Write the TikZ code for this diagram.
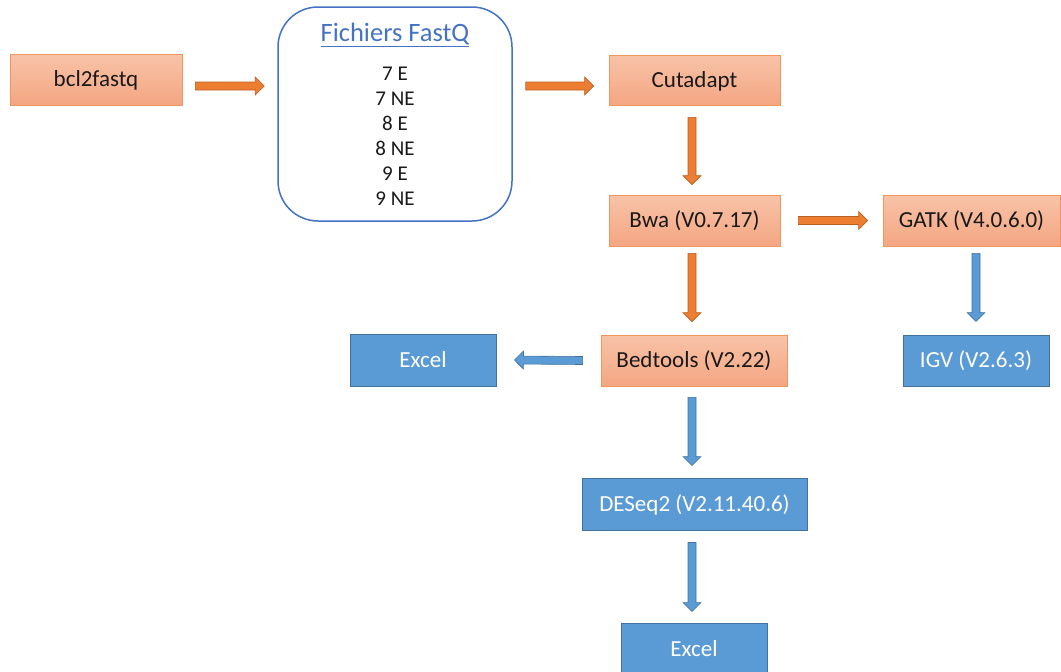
\documentclass[tikz,border=0pt]{standalone}
\usepackage{fontspec}
\setmainfont{Carlito}
\usetikzlibrary{calc}
\definecolor{oFillTop}{HTML}{F8C3A8}
\definecolor{oFillBot}{HTML}{F4A682}
\definecolor{oBorder}{HTML}{F0955E}
\definecolor{oArrow}{HTML}{ED7D31}
\definecolor{oArrowB}{HTML}{B85F24}
\definecolor{bFill}{HTML}{5B9BD5}
\definecolor{bBorder}{HTML}{41719C}
\definecolor{fqBlue}{HTML}{4472C4}
\newcommand{\blockarrow}[3]{%
  \draw[#1] let \p1=(#2), \p2=(#3),
    \n1={veclen(\x2-\x1,\y2-\y1)},
    \n2={(\x2-\x1)/\n1}, \n3={(\y2-\y1)/\n1} in
    ({\x1-4*\n3},{\y1+4*\n2}) --
    ({\x2-9*\n2-4*\n3},{\y2-9*\n3+4*\n2}) --
    ({\x2-9*\n2-9*\n3},{\y2-9*\n3+9*\n2}) --
    (\x2,\y2) --
    ({\x2-9*\n2+9*\n3},{\y2-9*\n3-9*\n2}) --
    ({\x2-9*\n2+4*\n3},{\y2-9*\n3-4*\n2}) --
    ({\x1+4*\n3},{\y1-4*\n2}) -- cycle;}
\tikzset{
  obox/.style={rectangle, draw=oBorder, line width=0.8pt, top color=oFillTop, bottom color=oFillBot,
    minimum height=51pt, inner sep=0pt, text height=17pt, text depth=3pt, text=black!90, font=\fontsize{23}{28}\selectfont},
  bbox/.style={rectangle, draw=bBorder, line width=0.9pt, fill=bFill,
    minimum height=51pt, inner sep=0pt, text height=17pt, text depth=3pt, text=white, font=\fontsize{23}{28}\selectfont},
  oarr/.style={fill=oArrow, draw=oArrowB, line width=0.6pt, line join=miter},
  barr/.style={fill=bFill, draw=bBorder, line width=0.6pt, line join=miter},
}
\begin{document}
\begin{tikzpicture}[x=1pt,y=-1pt]
\useasboundingbox (0,0) rectangle (1061,672);
\node[obox, minimum width=172pt] (bcl) at (96,79.5) {bcl2fastq};
\node[rectangle, rounded corners=40pt, draw=fqBlue, line width=1.5pt, minimum width=234pt, minimum height=214pt,
  inner sep=0pt, align=center, font=\fontsize{21}{25}\selectfont, text=black!90] (fq) at (395,114)
  {{\fontsize{26.5}{30}\selectfont\textcolor{fqBlue}{\underline{Fichiers FastQ}}}\\[14pt]
   7 E\\ 7 NE\\ 8 E\\ 8 NE\\ 9 E\\ 9 NE};
\node[obox, minimum width=171pt, minimum height=50pt] (cut) at (694.5,80) {Cutadapt};
\node[obox, minimum width=171pt] (bwa) at (694.5,220.5) {Bwa (V0.7.17)};
\node[obox, minimum width=177pt] (gatk) at (971.5,220.5) {GATK (V4.0.6.0)};
\node[obox, minimum width=186pt] (bed) at (694,360.5) {Bedtools (V2.22)};
\node[bbox, minimum width=146pt] (igv) at (976,360.5) {IGV (V2.6.3)};
\node[bbox, minimum width=146pt, minimum height=52pt] (xl1) at (423,360) {Excel};
\node[bbox, minimum width=225pt, minimum height=52pt] (deseq) at (694.5,504) {DESeq2 (V2.11.40.6)};
\node[bbox, minimum width=146pt, minimum height=52pt] (xl2) at (694,649) {Excel};

\coordinate (a1s) at ($(bcl.east)+(13,6.5)$);
\coordinate (a1e) at ($(fq.west|-a1s)+(-13,0)$);
\coordinate (a2s) at ($(fq.east|-a1s)+(13,0)$);
\coordinate (a2e) at ($(cut.west|-a1s)+(-15,0)$);
\blockarrow{oarr}{a1s}{a1e}
\blockarrow{oarr}{a2s}{a2e}
\blockarrow{oarr}{$(cut.south)+(-2.5,12)$}{$(bwa.north)+(-2.5,-10)$}
\blockarrow{oarr}{$(bwa.east)+(18,0)$}{$(gatk.west)+(-15,0)$}
\blockarrow{oarr}{$(bwa.south)+(-2.5,7)$}{$(bed.north)+(-2,-13)$}
\blockarrow{barr}{$(gatk.south)+(4.5,7)$}{$(igv.north)+(0,-13)$}
\blockarrow{barr}{$(bed.west)+(-18,0)$}{$(xl1.east)+(18,0)$}
\blockarrow{barr}{$(bed.south)+(-2,11)$}{$(deseq.north)+(-2.5,-12)$}
\blockarrow{barr}{$(deseq.south)+(-2.5,12)$}{$(xl2.north)+(-2,-11)$}
\end{tikzpicture}
\end{document}
